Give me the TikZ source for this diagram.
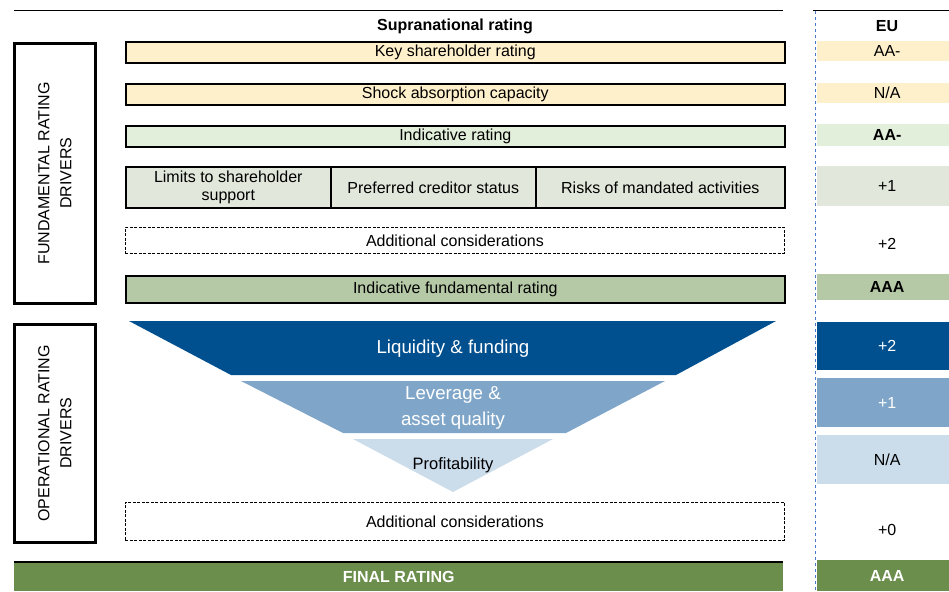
\documentclass[tikz,border=0pt]{standalone}
\usepackage{fontspec}
\setmainfont{Liberation Sans}
\usepackage{tikz}
\usetikzlibrary{calc}

\definecolor{keyorange}{HTML}{FFF0CC}
\definecolor{lightgreen}{HTML}{E2EFDA}
\definecolor{greygreen}{HTML}{E1E7DA}
\definecolor{sage}{HTML}{B6C9A6}
\definecolor{darkblue}{HTML}{004F8E}
\definecolor{midblue}{HTML}{7FA6C8}
\definecolor{paleblue}{HTML}{CBDCEB}
\definecolor{finalgreen}{HTML}{6C8E4D}
\definecolor{rulerblue}{HTML}{4A78C8}

\begin{document}
\begin{tikzpicture}[x=1pt,y=-1pt,
    bar/.style={draw=black,line width=1.6pt,anchor=north west,inner sep=0pt,
      minimum width=659pt,minimum height=21pt,font=\fontsize{16}{18}\selectfont},
    dashbar/.style={bar,dash pattern=on 3pt off 1.5pt,line width=0.9pt},
    cell/.style={bar,align=center,minimum height=41pt},
    sidebox/.style={draw=black,line width=2.6pt,anchor=north west,minimum width=81pt},
    sidelabel/.style={rotate=90,align=center,font=\fontsize{16}{22}\selectfont},
    eubox/.style={anchor=north west,inner sep=0pt,minimum width=140pt,
      font=\fontsize{16}{18}\selectfont},
    funneltext/.style={text=white,align=center,font=\fontsize{18.7}{26}\selectfont}]
    \useasboundingbox (0,0) rectangle (949,591);

    % header rules and titles
    \draw[line width=1pt] (14,11) -- (783,11);
    \draw[line width=1pt] (813,11) -- (949,11);
    \draw[rulerblue,dashed,line width=0.8pt] (815,11) -- (815,591);
    \node[font=\bfseries\fontsize{16}{18}\selectfont] (suptitle) at (455,26) {Supranational rating};
    \node[font=\bfseries\fontsize{16}{18}\selectfont] (eutitle) at (887,26) {EU};

    % side boxes
    \node[sidebox,minimum height=260pt] (fundbox) at (13,42) {};
    \node[sidelabel] (fundlabel) at (fundbox.center) {FUNDAMENTAL RATING\\DRIVERS};
    \node[sidebox,minimum height=218pt] (operbox) at (13,323) {};
    \node[sidelabel] (operlabel) at (operbox.center) {OPERATIONAL RATING\\DRIVERS};

    % fundamental drivers
    \node[bar,fill=keyorange] (keyshare) at (125,41) {Key shareholder rating};
    \node[bar,fill=keyorange] (shock) at (125,83) {Shock absorption capacity};
    \node[bar,fill=lightgreen] (indic) at (125,125) {Indicative rating};
    \node[cell,fill=greygreen,minimum width=205pt] (limits) at (125,166) {Limits to shareholder\\support};
    \node[cell,fill=greygreen,minimum width=205pt] (prefcred) at (330,166) {Preferred creditor status};
    \node[cell,fill=greygreen,minimum width=249pt] (mandate) at (535,166) {Risks of mandated activities};
    \node[dashbar,minimum height=26pt] (addfund) at (125,227) {Additional considerations};
    \node[bar,fill=sage,minimum height=27pt] (indfund) at (125,275) {Indicative fundamental rating};

    % operational funnel
    \fill[darkblue] (129,321) -- (776,321) -- (676,375) -- (231,375) -- cycle;
    \fill[midblue] (241,381) -- (665,381) -- (566,433) -- (343,433) -- cycle;
    \fill[paleblue] (353,439) -- (553,439) -- (453,492) -- cycle;
    \node[funneltext] (liquid) at (453,349) {Liquidity \& funding};
    \node[funneltext] (leverage) at (453,408) {Leverage \&\\asset quality};
    \node[font=\fontsize{16.5}{18}\selectfont] (profit) at (453,465) {Profitability};
    \node[dashbar,minimum height=38pt] (addoper) at (125,502) {Additional considerations};

    % final rating
    \node[anchor=north west,fill=finalgreen,minimum width=769pt,minimum height=29pt,
      text=white,font=\bfseries\fontsize{16}{18}\selectfont] (final) at (14,562) {FINAL RATING};
    \draw[line width=2pt] (final.north west) -- (final.north east);

    % EU column
    \foreach \top/\hgt/\col/\txt [count=\i] in {41/20/keyorange/AA-, 83/20/keyorange/{N/A},
        124/22/lightgreen/\textbf{AA-}, 166/40/greygreen/+1, 222/44/white/+2,
        274/26/sage/\textbf{AAA}, 322/48/darkblue/\textcolor{white}{+2},
        378/49/midblue/\textcolor{white}{+1}, 435/49/paleblue/{N/A}, 506/48/white/+0,
        560/31/finalgreen/\textcolor{white}{\textbf{AAA}}} {
        \node[eubox,fill=\col,minimum height=\hgt pt] (eu\i) at (817,\top) {\txt};
    }
\end{tikzpicture}
\end{document}
